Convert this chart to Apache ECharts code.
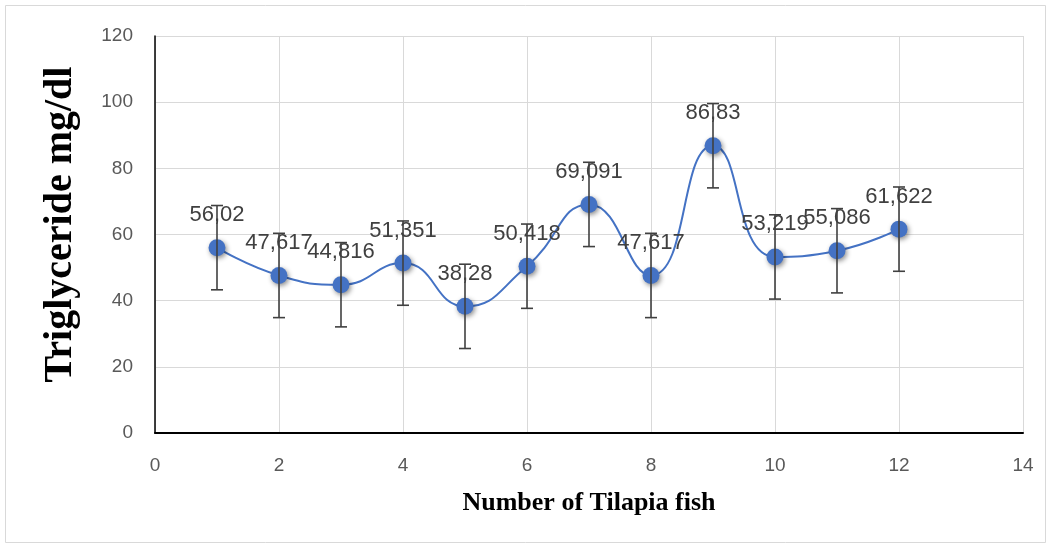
<!DOCTYPE html>
<html><head><meta charset="utf-8">
<script src="https://cdn.jsdelivr.net/npm/echarts@6/dist/echarts.min.js"></script>
<style>html,body{margin:0;padding:0;background:#fff}#c{width:1050px;height:548px}</style>
</head><body><div id="c"></div>
<script>
const fishNumbers = [1,2,3,4,5,6,7,8,9,10,11,12];
const triglyceride = [56.02,47.617,44.816,51.351,38.28,50.418,69.091,47.617,86.83,53.219,55.086,61.622];
const errorValues = [12.74,12.74,12.74,12.74,12.74,12.74,12.74,12.74,12.74,12.74,12.74,12.74];
const xTicks = [0,2,4,6,8,10,12,14];
const yTicks = [0,20,40,60,80,100,120];

const lineData = fishNumbers.map((x,i)=>[x, triglyceride[i]]);
const errData = fishNumbers.map((x,i)=>[x, triglyceride[i]-errorValues[i], triglyceride[i]+errorValues[i]]);
const tickFont = "'Liberation Sans',sans-serif";

const chart = echarts.init(document.getElementById('c'), null, {renderer:'canvas'});
chart.setOption({
  animation:false,
  backgroundColor:'#fff',
  graphic:[{type:'rect',shape:{x:5.5,y:5.5,width:1040,height:537},style:{fill:'none',stroke:'#d9d9d9',lineWidth:1},z:-10}],
  grid:{left:155,right:27,top:36,bottom:115,containLabel:false},
  xAxis:{
    type:'value',min:xTicks[0],max:xTicks[xTicks.length-1],interval:2,
    name:'Number of Tilapia fish',nameLocation:'middle',nameGap:57,
    nameTextStyle:{fontFamily:"'Liberation Serif','Times New Roman',serif",fontWeight:'bold',fontSize:26,color:'#000'},
    axisLine:{lineStyle:{color:'#000',width:2}},
    axisTick:{show:false},
    axisLabel:{fontFamily:tickFont,fontSize:19,color:'#595959',margin:23},
    splitLine:{show:true,lineStyle:{color:'#d9d9d9',width:1}}
  },
  yAxis:{
    type:'value',min:yTicks[0],max:yTicks[yTicks.length-1],interval:20,
    name:'Triglyceride mg/dl',nameLocation:'middle',nameGap:74,nameRotate:90,
    nameTextStyle:{fontFamily:"'Liberation Serif','Times New Roman',serif",fontWeight:'bold',fontSize:40,color:'#000',padding:[0,0,0,20]},
    axisLine:{show:true,lineStyle:{color:'#000',width:1.5}},
    axisTick:{show:false},
    axisLabel:{fontFamily:tickFont,fontSize:19,color:'#595959',margin:22},
    splitLine:{show:true,lineStyle:{color:'#d9d9d9',width:1}}
  },
  series:[
    {
      type:'line',data:lineData,smooth:0.5,
      lineStyle:{color:'#4472C4',width:2},
      symbol:'circle',symbolSize:17,
      itemStyle:{color:'#4472C4',shadowBlur:5,shadowColor:'rgba(0,0,0,0.45)',shadowOffsetX:1.5,shadowOffsetY:2},
      label:{show:true,position:'top',distance:13,fontFamily:tickFont,fontSize:22,color:'#404040',
        formatter:p=>String(p.value[1]).replace('.',',')},
      z:2
    },
    {
      type:'custom',data:errData,z:3,
      encode:{x:0,y:[1,2]},
      renderItem:(params,api)=>{
        const x=api.value(0);
        const lo=api.coord([x,api.value(1)]);
        const hi=api.coord([x,api.value(2)]);
        const w=6;
        const st={stroke:'#404040',lineWidth:1.6};
        return {type:'group',children:[
          {type:'line',shape:{x1:lo[0],y1:lo[1],x2:hi[0],y2:hi[1]},style:st},
          {type:'line',shape:{x1:lo[0]-w,y1:lo[1],x2:lo[0]+w,y2:lo[1]},style:st},
          {type:'line',shape:{x1:hi[0]-w,y1:hi[1],x2:hi[0]+w,y2:hi[1]},style:st}
        ]};
      }
    }
  ]
});
</script></body></html>
